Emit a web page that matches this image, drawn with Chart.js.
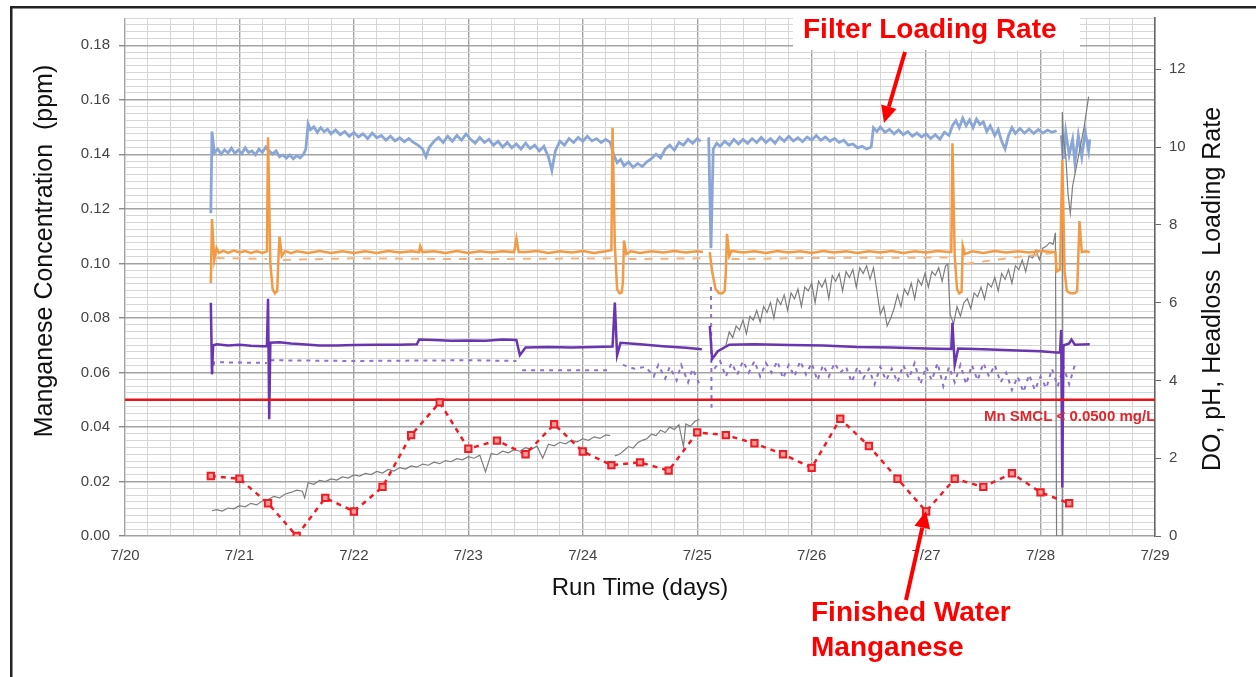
<!DOCTYPE html>
<html>
<head>
<meta charset="utf-8">
<script src="https://cdn.jsdelivr.net/npm/chart.js@4.4.1/dist/chart.umd.min.js"></script>
<style>
  body { margin: 0; background: #fff; }
  #wrap { position: relative; width: 1256px; height: 677px; }
</style>
</head>
<body>
<div id="wrap"><canvas id="myChart" width="1256" height="677"></canvas></div>
<script>
// tick labels
const xTickLabels = ['7/20', '7/21', '7/22', '7/23', '7/24', '7/25', '7/26', '7/27', '7/28', '7/29'];
const leftTickLabels = ['0.00', '0.02', '0.04', '0.06', '0.08', '0.10', '0.12', '0.14', '0.16', '0.18'];
const rightTickValues = [0, 2, 4, 6, 8, 10, 12];

// finished water manganese (ppm, left axis), one grab sample every 6 hours
const mnDays = [0.75, 1, 1.25, 1.5, 1.75, 2, 2.25, 2.5, 2.75, 3, 3.25, 3.5, 3.75, 4, 4.25, 4.5,
  4.75, 5, 5.25, 5.5, 5.75, 6, 6.25, 6.5, 6.75, 7, 7.25, 7.5, 7.75, 8, 8.25];
const mnValues = [0.022, 0.021, 0.012, 0.0, 0.014, 0.009, 0.018, 0.037, 0.049, 0.032, 0.035, 0.030,
  0.041, 0.031, 0.026, 0.027, 0.024, 0.038, 0.037, 0.034, 0.030, 0.025, 0.043, 0.033, 0.021, 0.009,
  0.021, 0.018, 0.023, 0.016, 0.012];
const smclValue = 0.05;

// online probes, [day after 7/20, value] on the right axis
const loadingRate = [[0.75, 8.3], [0.76, 10.4], [0.78, 9.85], [0.81, 9.95], [0.84, 9.82], [0.87, 9.93], [0.9, 9.85], [0.93, 9.97],
  [0.96, 9.84], [0.99, 9.92], [1.02, 9.83], [1.05, 9.98], [1.08, 9.86], [1.11, 9.9], [1.14, 9.8], [1.17, 9.95], [1.2, 9.86],
  [1.23, 10.0], [1.26, 9.9], [1.29, 9.82], [1.32, 9.9], [1.35, 9.75], [1.38, 9.8], [1.41, 9.72], [1.44, 9.8], [1.47, 9.7],
  [1.5, 9.78], [1.53, 9.72], [1.56, 9.82], [1.58, 9.95], [1.6, 10.6], [1.62, 10.45], [1.65, 10.52], [1.68, 10.38], [1.71, 10.5],
  [1.74, 10.4], [1.77, 10.46], [1.8, 10.34], [1.84, 10.44], [1.88, 10.32], [1.92, 10.4], [1.96, 10.28], [2.0, 10.38],
  [2.04, 10.26], [2.08, 10.34], [2.12, 10.22], [2.16, 10.36], [2.2, 10.24], [2.24, 10.3], [2.28, 10.18], [2.32, 10.28],
  [2.36, 10.16], [2.4, 10.24], [2.44, 10.14], [2.48, 10.22], [2.52, 10.12], [2.56, 10.05], [2.6, 9.95], [2.63, 9.75],
  [2.66, 10.0], [2.7, 10.15], [2.74, 10.25], [2.78, 10.12], [2.82, 10.28], [2.86, 10.15], [2.9, 10.3], [2.94, 10.18],
  [2.98, 10.34], [3.02, 10.2], [3.06, 10.1], [3.1, 10.25], [3.14, 10.12], [3.18, 10.2], [3.22, 10.05], [3.26, 10.15],
  [3.3, 10.0], [3.34, 10.12], [3.38, 9.98], [3.42, 10.08], [3.46, 9.95], [3.5, 10.1], [3.54, 9.96], [3.58, 10.05], [3.62, 9.9],
  [3.66, 10.02], [3.7, 9.75], [3.73, 9.4], [3.76, 9.9], [3.8, 10.15], [3.84, 10.05], [3.88, 10.22], [3.92, 10.12],
  [3.96, 10.25], [4.0, 10.15], [4.04, 10.28], [4.08, 10.16], [4.12, 10.22], [4.16, 10.12], [4.2, 10.2], [4.24, 10.12],
  [4.27, 9.8], [4.3, 9.6], [4.33, 9.68], [4.36, 9.52], [4.4, 9.62], [4.44, 9.48], [4.48, 9.58], [4.52, 9.5], [4.56, 9.62],
  [4.6, 9.7], [4.64, 9.82], [4.68, 9.72], [4.72, 9.95], [4.76, 10.05], [4.8, 9.92], [4.84, 10.12], [4.88, 10.05], [4.92, 10.2],
  [4.96, 10.1], [5.0, 10.22], [5.03, 10.15], [5.05, null], [5.1, 10.25], [5.12, 7.4], [5.14, 9.95], [5.17, 10.1], [5.2, 10.02],
  [5.24, 10.15], [5.28, 10.05], [5.32, 10.2], [5.36, 10.08], [5.4, 10.2], [5.44, 10.1], [5.48, 10.22], [5.52, 10.12],
  [5.56, 10.25], [5.6, 10.12], [5.64, 10.22], [5.68, 10.1], [5.72, 10.26], [5.76, 10.15], [5.8, 10.28], [5.84, 10.16],
  [5.88, 10.24], [5.92, 10.14], [5.96, 10.26], [6.0, 10.18], [6.04, 10.3], [6.08, 10.18], [6.12, 10.26], [6.16, 10.15],
  [6.2, 10.22], [6.24, 10.12], [6.28, 10.18], [6.32, 10.05], [6.36, 10.08], [6.4, 9.98], [6.44, 10.02], [6.48, 9.95],
  [6.52, 10.0], [6.54, 10.5], [6.57, 10.4], [6.6, 10.52], [6.64, 10.38], [6.68, 10.46], [6.72, 10.34], [6.76, 10.44],
  [6.8, 10.32], [6.84, 10.4], [6.88, 10.28], [6.92, 10.36], [6.96, 10.26], [7.0, 10.34], [7.04, 10.22], [7.08, 10.32],
  [7.12, 10.2], [7.16, 10.38], [7.2, 10.3], [7.23, 10.55], [7.26, 10.68], [7.29, 10.5], [7.32, 10.75], [7.35, 10.55],
  [7.38, 10.7], [7.41, 10.5], [7.44, 10.72], [7.47, 10.58], [7.5, 10.65], [7.53, 10.4], [7.56, 10.55], [7.6, 10.3],
  [7.63, 10.45], [7.66, 10.15], [7.69, 9.95], [7.72, 10.3], [7.75, 10.5], [7.78, 10.35], [7.82, 10.48], [7.86, 10.36],
  [7.9, 10.46], [7.94, 10.35], [7.98, 10.45], [8.02, 10.36], [8.06, 10.44], [8.1, 10.38], [8.14, 10.42], [8.15, null],
  [8.18, 10.3], [8.2, 9.7], [8.22, 10.4], [8.25, 9.8], [8.28, 10.2], [8.3, 9.6], [8.33, 10.3], [8.36, 9.75], [8.39, 10.4],
  [8.42, 9.9], [8.43, 10.2]];

const phA = [[0.75, 6.5], [0.76, 8.15], [0.78, 7.1], [0.8, 7.4], [0.82, 7.28], [0.86, 7.33], [0.9, 7.28], [0.95, 7.34], [1.0, 7.29],
  [1.05, 7.33], [1.1, 7.28], [1.15, 7.32], [1.2, 7.28], [1.24, 7.32], [1.25, 10.25], [1.27, 7.0], [1.29, 6.35], [1.31, 6.24],
  [1.33, 6.3], [1.34, 7.1], [1.35, 7.7], [1.37, 7.2], [1.4, 7.33], [1.45, 7.27], [1.5, 7.32], [1.6, 7.28], [1.7, 7.33], [1.8, 7.28],
  [1.9, 7.32], [2.0, 7.28], [2.1, 7.32], [2.2, 7.28], [2.3, 7.33], [2.4, 7.29], [2.5, 7.32], [2.57, 7.3], [2.58, 7.45], [2.6, 7.3],
  [2.7, 7.32], [2.8, 7.28], [2.9, 7.33], [3.0, 7.28], [3.1, 7.32], [3.2, 7.29], [3.3, 7.32], [3.4, 7.3], [3.42, 7.65], [3.44, 7.3],
  [3.5, 7.3], [3.6, 7.33], [3.7, 7.28], [3.8, 7.32], [3.9, 7.29], [4.0, 7.33], [4.1, 7.28], [4.2, 7.32], [4.25, 7.35],
  [4.26, 10.5], [4.28, 7.5], [4.3, 6.35], [4.32, 6.24], [4.34, 6.26], [4.35, 6.5], [4.36, 7.6], [4.38, 7.25], [4.42, 7.32],
  [4.5, 7.28], [4.6, 7.32], [4.7, 7.29], [4.8, 7.33], [4.9, 7.29], [5.0, 7.32], [5.05, 7.3], [5.06, null], [5.11, 7.3],
  [5.13, 6.8], [5.16, 6.35], [5.19, 6.24], [5.22, 6.24], [5.24, 6.3], [5.25, 6.8], [5.26, 7.77], [5.28, 7.2], [5.3, 7.33],
  [5.4, 7.29], [5.5, 7.32], [5.6, 7.28], [5.7, 7.33], [5.8, 7.29], [5.9, 7.32], [6.0, 7.28], [6.1, 7.33], [6.2, 7.29],
  [6.3, 7.32], [6.4, 7.28], [6.5, 7.32], [6.6, 7.29], [6.7, 7.33], [6.8, 7.28], [6.9, 7.32], [7.0, 7.29], [7.1, 7.33],
  [7.2, 7.3], [7.22, 7.3], [7.23, 10.1], [7.25, 7.2], [7.27, 6.35], [7.29, 6.24], [7.31, 6.28], [7.32, 7.46], [7.34, 7.25],
  [7.4, 7.32], [7.5, 7.28], [7.6, 7.33], [7.7, 7.29], [7.8, 7.32], [7.9, 7.29], [8.0, 7.33], [8.1, 7.3], [8.13, 7.3],
  [8.14, 6.8], [8.17, 6.85], [8.19, 9.67], [8.21, 6.8], [8.23, 6.3], [8.26, 6.24], [8.3, 6.24], [8.32, 6.3], [8.34, 8.1],
  [8.36, 7.3], [8.4, 7.32], [8.43, 7.3]];

const phB = [[0.8, 7.15], [1.24, 7.12], [1.3, null], [1.38, 7.1], [2.0, 7.14], [3.0, 7.12], [4.25, 7.14], [4.3, null],
  [4.4, 7.12], [5.05, 7.14], [5.1, null], [5.3, 7.12], [6.0, 7.15], [7.2, 7.16], [7.25, null], [7.35, 7.0], [7.6, 7.1],
  [8.1, 7.28], [8.13, null], [8.14, 6.8], [8.18, 6.9]];

const doA = [[0.75, 6.0], [0.76, 4.16], [0.77, 4.9], [0.8, 4.93], [0.9, 4.9], [1.0, 4.92], [1.1, 4.89], [1.2, 4.88], [1.24, 4.88],
  [1.25, 6.1], [1.26, 3.0], [1.27, 4.97], [1.35, 4.98], [1.45, 4.95], [1.55, 4.93], [1.7, 4.9], [1.85, 4.9], [2.0, 4.91],
  [2.2, 4.92], [2.4, 4.92], [2.55, 4.93], [2.57, 5.05], [2.7, 5.04], [2.85, 5.02], [3.0, 5.03], [3.15, 5.02], [3.3, 5.05],
  [3.42, 5.04], [3.45, 4.65], [3.5, 4.85], [3.7, 4.86], [3.9, 4.85], [4.1, 4.86], [4.26, 4.87], [4.28, 6.0], [4.3, 4.65],
  [4.33, 4.97], [4.5, 4.93], [4.7, 4.88], [4.9, 4.84], [5.04, 4.8], [5.05, null], [5.11, 5.4], [5.13, 4.55], [5.18, 4.75],
  [5.28, 4.92], [5.5, 4.93], [5.8, 4.91], [6.1, 4.9], [6.4, 4.86], [6.7, 4.85], [7.0, 4.82], [7.22, 4.81], [7.23, 5.48],
  [7.25, 4.4], [7.28, 4.82], [7.5, 4.8], [7.8, 4.77], [8.0, 4.75], [8.14, 4.72], [8.17, 4.72], [8.18, 5.3], [8.19, 1.25],
  [8.2, 4.9], [8.25, 4.95], [8.27, 5.05], [8.3, 4.92], [8.43, 4.93]];

const doB = [[0.76, 4.16], [0.78, 4.47], [1.24, 4.45], [1.25, null], [1.27, 4.52], [2.0, 4.5], [3.0, 4.52], [3.42, 4.5],
  [3.45, null], [3.47, 4.26], [4.25, 4.26], [4.3, null], [4.35, 4.4], [4.45, 4.3], [4.55, 4.35], [4.62, 4.1], [4.66, 4.4],
  [4.72, 4.05], [4.76, 4.35], [4.82, 4.0], [4.86, 4.4], [4.92, 3.95], [4.96, 4.3], [5.02, 3.9], [5.05, null], [5.12, 6.4],
  [5.125, 3.3], [5.13, null], [5.15, 4.3], [5.2, 4.5], [5.25, 4.1], [5.3, 4.45], [5.35, 4.15], [5.4, 4.5], [5.45, 4.2],
  [5.5, 4.5], [5.55, 4.1], [5.6, 4.45], [5.65, 4.2], [5.7, 4.5], [5.75, 4.05], [5.8, 4.4], [5.85, 4.1], [5.9, 4.5],
  [5.95, 4.15], [6.0, 4.45], [6.05, 4.0], [6.1, 4.4], [6.15, 4.1], [6.2, 4.45], [6.25, 4.2], [6.3, 4.35], [6.35, 3.95],
  [6.4, 4.35], [6.45, 4.05], [6.5, 4.3], [6.55, 3.9], [6.6, 4.35], [6.65, 4.0], [6.7, 4.3], [6.75, 3.95], [6.8, 4.4],
  [6.85, 4.05], [6.9, 4.45], [6.95, 3.9], [7.0, 4.35], [7.05, 4.0], [7.1, 4.45], [7.15, 3.85], [7.2, 4.35], [7.25, 3.95],
  [7.3, 4.4], [7.35, 3.9], [7.4, 4.4], [7.45, 4.0], [7.5, 4.45], [7.55, 4.1], [7.6, 4.4], [7.65, 3.95], [7.7, 4.2],
  [7.75, 3.75], [7.8, 4.1], [7.85, 3.7], [7.9, 4.15], [7.95, 3.75], [8.0, 4.1], [8.05, 3.8], [8.1, 4.3], [8.15, 3.85],
  [8.2, 4.35], [8.25, 3.9], [8.3, 4.4]];

const headloss = [[0.76, 0.65], [0.8, 0.68], [0.85, 0.64], [0.9, 0.72], [0.95, 0.7], [1.0, 0.78], [1.05, 0.75], [1.1, 0.84],
  [1.15, 0.8], [1.2, 0.9], [1.25, 0.93], [1.3, 1.02], [1.35, 0.98], [1.4, 1.08], [1.45, 1.12], [1.5, 1.18], [1.55, 1.15],
  [1.57, 0.98], [1.6, 1.37], [1.65, 1.33], [1.7, 1.43], [1.75, 1.4], [1.8, 1.47], [1.85, 1.44], [1.9, 1.52], [1.95, 1.49],
  [2.0, 1.57], [2.05, 1.54], [2.1, 1.61], [2.15, 1.58], [2.2, 1.66], [2.25, 1.62], [2.3, 1.71], [2.35, 1.67], [2.4, 1.76],
  [2.45, 1.72], [2.5, 1.8], [2.55, 1.77], [2.6, 1.85], [2.65, 1.82], [2.7, 1.9], [2.75, 1.86], [2.8, 1.94], [2.85, 1.91],
  [2.9, 1.99], [2.95, 1.96], [3.0, 2.04], [3.05, 2.0], [3.1, 2.08], [3.15, 1.65], [3.2, 2.12], [3.25, 2.09], [3.3, 2.18],
  [3.35, 2.14], [3.4, 2.22], [3.45, 2.18], [3.5, 2.27], [3.55, 2.23], [3.6, 2.31], [3.65, 2.0], [3.7, 2.36], [3.75, 2.32],
  [3.8, 2.41], [3.85, 2.37], [3.9, 2.46], [3.95, 2.42], [4.0, 2.5], [4.05, 2.46], [4.1, 2.55], [4.15, 2.51], [4.2, 2.6],
  [4.24, 2.58], [4.26, null], [4.28, 2.06], [4.32, 2.1], [4.36, 2.2], [4.4, 2.3], [4.44, 2.26], [4.48, 2.4], [4.52, 2.46],
  [4.56, 2.5], [4.6, 2.62], [4.64, 2.58], [4.68, 2.72], [4.72, 2.66], [4.76, 2.8], [4.8, 2.74], [4.84, 2.86], [4.88, 2.3],
  [4.9, 2.88], [4.94, 2.82], [4.98, 2.95], [5.02, 3.0], [5.04, null], [5.25, 4.9], [5.28, 5.25], [5.31, 5.1], [5.34, 5.4],
  [5.37, 5.3], [5.4, 5.55], [5.43, 5.2], [5.46, 5.65], [5.49, 5.55], [5.52, 5.8], [5.55, 5.5], [5.58, 5.9], [5.61, 5.75],
  [5.64, 6.0], [5.67, 5.6], [5.7, 6.1], [5.73, 5.95], [5.76, 6.2], [5.79, 5.8], [5.82, 6.25], [5.85, 6.1], [5.88, 6.35],
  [5.91, 5.9], [5.94, 6.4], [5.97, 6.3], [6.0, 6.5], [6.03, 6.0], [6.06, 6.55], [6.09, 6.4], [6.12, 6.6], [6.15, 6.1],
  [6.18, 6.7], [6.21, 6.55], [6.24, 6.75], [6.27, 6.3], [6.3, 6.8], [6.33, 6.65], [6.36, 6.85], [6.39, 6.4], [6.42, 6.9],
  [6.45, 6.75], [6.48, 6.95], [6.51, 6.6], [6.54, 6.9], [6.57, 6.3], [6.6, 5.7], [6.63, 5.9], [6.66, 5.4], [6.69, 5.6],
  [6.72, 5.85], [6.75, 6.2], [6.78, 5.9], [6.81, 6.35], [6.84, 6.2], [6.87, 6.5], [6.9, 6.1], [6.93, 6.6], [6.96, 6.45],
  [6.99, 6.75], [7.02, 6.4], [7.05, 6.8], [7.08, 6.7], [7.11, 6.9], [7.14, 6.55], [7.17, 6.95], [7.19, 7.0], [7.21, 5.7],
  [7.24, 5.45], [7.27, 5.9], [7.3, 5.65], [7.33, 6.0], [7.36, 6.1], [7.39, 5.85], [7.42, 6.25], [7.45, 6.15], [7.48, 6.4],
  [7.51, 6.1], [7.54, 6.5], [7.57, 6.4], [7.6, 6.65], [7.63, 6.3], [7.66, 6.75], [7.69, 6.6], [7.72, 6.85], [7.75, 6.5],
  [7.78, 6.95], [7.81, 6.85], [7.84, 7.1], [7.87, 6.8], [7.9, 7.2], [7.93, 7.15], [7.96, 7.35], [7.99, 7.1], [8.02, 7.4],
  [8.05, 7.45], [8.08, 7.55], [8.11, 7.5], [8.13, 7.8], [8.14, 0], [8.19, 0], [8.19, 10.9], [8.2, 10.2], [8.22, 9.8],
  [8.24, 8.8], [8.26, 8.3], [8.28, 9.0], [8.3, 9.3], [8.32, 9.6], [8.34, 9.9], [8.36, 10.2], [8.38, 10.5], [8.4, 10.9],
  [8.42, 11.3]];

let toPoints = function(pairs) {
  return pairs.map(p => ({x: p[0], y: p[1]}));
};

let lineSet = function(label, pairs, color, width, order, dash) {
  return {
    label: label,
    data: toPoints(pairs),
    yAxisID: 'yR',
    borderColor: color,
    borderWidth: width,
    borderDash: dash || [],
    pointRadius: 0,
    spanGaps: false,
    tension: 0,
    order: order
  };
};

const FONT = "'Liberation Sans', Arial, sans-serif";
const MAJOR_GRID = '#a3a3a3';
const MINOR_GRID = '#d6d6d6';

// titles, call-outs and frame drawn on top of the chart
const callouts = {
  id: 'callouts',
  beforeDraw(chart) {
    const ctx = chart.ctx;
    ctx.save();
    ctx.fillStyle = '#fff';
    ctx.fillRect(0, 0, chart.width, chart.height);
    ctx.restore();
  },
  afterDraw(chart) {
    const ctx = chart.ctx;
    ctx.save();
    // outer frame
    ctx.fillStyle = '#222';
    ctx.fillRect(10, 6, chart.width - 10, 2.5);
    ctx.fillRect(10, 6, 2.5, chart.height - 6);

    // axis titles
    ctx.fillStyle = '#111';
    ctx.textAlign = 'center';
    ctx.textBaseline = 'middle';
    ctx.font = '25px ' + FONT;
    ctx.save();
    ctx.translate(45, 251);
    ctx.rotate(-Math.PI / 2);
    ctx.fillText('Manganese Concentration  (ppm)', 0, 0);
    ctx.restore();
    ctx.save();
    ctx.translate(1213, 289);
    ctx.rotate(-Math.PI / 2);
    ctx.fillText('DO, pH, Headloss  Loading Rate', 0, 0);
    ctx.restore();
    ctx.font = '24px ' + FONT;
    ctx.fillText('Run Time (days)', 640, 588);

    // SMCL label
    ctx.fillStyle = '#e0262c';
    ctx.textAlign = 'left';
    ctx.font = 'bold 15px ' + FONT;
    ctx.fillText('Mn SMCL < 0.0500 mg/L', 984, 417);

    // call-outs
    ctx.fillStyle = '#fff';
    ctx.fillRect(793, 9, 287, 41);
    ctx.fillStyle = '#ff0000';
    ctx.font = 'bold 28px ' + FONT;
    ctx.fillText('Filter Loading Rate', 803, 30);
    ctx.fillText('Finished Water', 811, 613);
    ctx.fillText('Manganese', 811, 648);
    drawArrow(ctx, 905, 52, 884, 123);
    drawArrow(ctx, 906, 600, 926, 511);
    ctx.restore();
  }
};

function drawArrow(ctx, x1, y1, x2, y2) {
  const ang = Math.atan2(y2 - y1, x2 - x1);
  const headLen = 17, headW = 8;
  const bx = x2 - headLen * Math.cos(ang), by = y2 - headLen * Math.sin(ang);
  ctx.strokeStyle = '#ff0000';
  ctx.lineWidth = 4;
  ctx.beginPath();
  ctx.moveTo(x1, y1);
  ctx.lineTo(bx, by);
  ctx.stroke();
  ctx.fillStyle = '#ff0000';
  ctx.beginPath();
  ctx.moveTo(x2, y2);
  ctx.lineTo(bx + headW * Math.sin(ang), by - headW * Math.cos(ang));
  ctx.lineTo(bx - headW * Math.sin(ang), by + headW * Math.cos(ang));
  ctx.closePath();
  ctx.fill();
}

function makeChart() {
  const ctx = document.getElementById('myChart');
  return new Chart(ctx, {
    type: 'line',
    data: {
      datasets: [
        {
          label: 'Finished Water Mn',
          data: mnDays.map((d, i) => ({x: d, y: mnValues[i]})),
          yAxisID: 'yL',
          borderColor: '#ee1c25',
          borderWidth: 2.5,
          borderDash: [5, 5],
          pointStyle: 'rect',
          pointRadius: 4.5,
          pointBorderWidth: 2,
          pointBorderColor: '#ee1c25',
          pointBackgroundColor: '#f79a9a',
          order: 0
        },
        {
          label: 'Mn SMCL',
          data: [{x: 0, y: smclValue}, {x: 9, y: smclValue}],
          yAxisID: 'yL',
          borderColor: '#e8141b',
          borderWidth: 2.5,
          pointRadius: 0,
          order: 1
        },
        lineSet('pH', phA, '#f39a45', 2.5, 2),
        lineSet('pH 2', phB, '#f5b27a', 2, 3, [8, 8]),
        lineSet('DO', doA, '#6a35b0', 2.5, 4),
        lineSet('DO 2', doB, '#8f70cf', 2, 5, [4, 5]),
        lineSet('Headloss', headloss, '#7d7d7d', 1.2, 6),
        lineSet('Filter Loading Rate', loadingRate, '#8aa6d6', 2.8, 7)
      ]
    },
    options: {
      responsive: false,
      maintainAspectRatio: false,
      animation: false,
      layout: { padding: { top: 11, left: 0, right: 0, bottom: 0 } },
      plugins: { legend: { display: false }, tooltip: { enabled: false } },
      scales: {
        x: {
          type: 'linear',
          min: 0,
          max: 9,
          afterBuildTicks: axis => { axis.ticks = Array.from({length: 46}, (_, i) => ({value: i / 5})); },
          afterFit: axis => { axis.height = 141; },
          ticks: {
            autoSkip: false,
            maxRotation: 0,
            padding: 5,
            color: '#444',
            font: { family: FONT, size: 15 },
            callback: (v, i) => (i % 5 === 0 ? xTickLabels[i / 5] : '')
          },
          grid: {
            color: c => (c.index % 5 === 0 ? MAJOR_GRID : MINOR_GRID),
            lineWidth: c => (c.index % 5 === 0 ? 1.4 : 1),
            tickColor: 'transparent',
            tickLength: 6
          },
          border: { display: false }
        },
        yL: {
          position: 'left',
          min: 0,
          max: 0.19,
          afterBuildTicks: axis => { axis.ticks = Array.from({length: 77}, (_, i) => ({value: i * 0.0025})); },
          afterFit: axis => { axis.width = 125; },
          ticks: {
            autoSkip: false,
            padding: 9,
            color: '#444',
            font: { family: FONT, size: 15 },
            callback: (v, i) => (i % 8 === 0 ? leftTickLabels[i / 8] : '')
          },
          grid: {
            color: c => (c.index % 8 === 0 ? MAJOR_GRID : MINOR_GRID),
            lineWidth: c => (c.index % 8 === 0 ? 1.4 : 1),
            tickColor: c => (c.index % 8 === 0 ? '#8a8a8a' : 'transparent'),
            tickLength: 6
          },
          border: { display: false }
        },
        yR: {
          position: 'right',
          min: 0,
          max: 13.32,
          afterBuildTicks: axis => { axis.ticks = rightTickValues.map(v => ({value: v})); },
          afterFit: axis => { axis.width = 101; },
          ticks: {
            padding: 8,
            color: '#444',
            font: { family: FONT, size: 15 },
            callback: v => String(v)
          },
          grid: { drawOnChartArea: false, color: '#666', tickLength: 6 },
          border: { display: true, color: '#666', width: 1.5 }
        }
      }
    },
    plugins: [callouts]
  });
}

makeChart();
</script>
</body>
</html>
